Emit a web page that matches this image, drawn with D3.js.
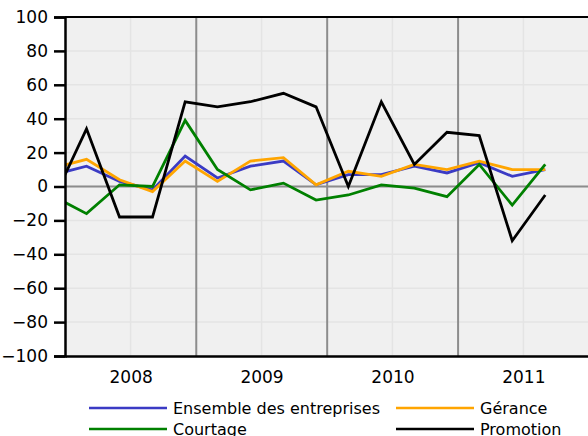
<!DOCTYPE html>
<html>
<head>
<meta charset="utf-8">
<script src="https://cdn.jsdelivr.net/npm/d3@7"></script>
<style>
  html, body { margin: 0; padding: 0; background: #fff; }
  svg { display: block; }
</style>
</head>
<body>
<div id="chart"></div>
<script>
// quarterly dates (first day of the last month of each quarter)
const dates = ['2007-12-01', '2008-03-01', '2008-06-01', '2008-09-01', '2008-12-01',
  '2009-03-01', '2009-06-01', '2009-09-01', '2009-12-01',
  '2010-03-01', '2010-06-01', '2010-09-01', '2010-12-01',
  '2011-03-01', '2011-06-01', '2011-09-01'];

const ensemble = [7, 12, 3, -2, 18, 5, 12, 15, 1, 7, 7, 12, 8, 14, 6, 10];
const gerance = [11, 16, 4, -3, 15, 3, 15, 17, 1, 9, 6, 13, 10, 15, 10, 10];
const courtage = [-6, -16, 1, 0, 39, 10, -2, 2, -8, -5, 1, -1, -6, 13, -11, 13];
const promotion = [-7, 34, -18, -18, 50, 47, 50, 55, 47, 0, 50, 13, 32, 30, -32, -5];

const yearLabels = ['2008', '2009', '2010', '2011'];
const yTicks = d3.range(-100, 101, 20);

const series = [
  { name: 'Ensemble des entreprises', values: ensemble, color: '#3b3bc4' },
  { name: 'Gérance', values: gerance, color: '#ffa500' },
  { name: 'Courtage', values: courtage, color: '#008000' },
  { name: 'Promotion', values: promotion, color: '#000000' },
];

const width = 588, height = 436;
const margin = { left: 65, top: 17, right: -1, bottom: 80 };
const parse = d3.timeParse('%Y-%m-%d');
const dateVals = dates.map(parse);

const x = d3.scaleTime()
  .domain([new Date(2008, 0, 1), new Date(2012, 0, 1)])
  .range([margin.left, width - margin.right]);
const y = d3.scaleLinear()
  .domain([-100, 100])
  .range([height - margin.bottom, margin.top]);

const svg = d3.select('#chart').append('svg')
  .attr('width', width)
  .attr('height', height)
  .attr('font-family', 'DejaVu Sans, sans-serif');

svg.append('defs').append('clipPath').attr('id', 'plot-clip')
  .append('rect')
  .attr('x', x.range()[0])
  .attr('y', y.range()[1])
  .attr('width', x.range()[1] - x.range()[0])
  .attr('height', y.range()[0] - y.range()[1]);

// plot background
svg.append('rect')
  .attr('x', x.range()[0])
  .attr('y', y.range()[1])
  .attr('width', x.range()[1] - x.range()[0])
  .attr('height', y.range()[0] - y.range()[1])
  .attr('fill', '#f0f0f0');

// faint grid
const years = yearLabels.map((d) => +d);
const midYears = years.map((yr) => new Date(yr, 6, 2));
svg.append('g').selectAll('line')
  .data(yTicks)
  .join('line')
  .attr('x1', x.range()[0]).attr('x2', x.range()[1])
  .attr('y1', (d) => y(d)).attr('y2', (d) => y(d))
  .attr('stroke', '#e4e4e4').attr('stroke-width', 1.5);
svg.append('g').selectAll('line')
  .data(midYears)
  .join('line')
  .attr('x1', (d) => x(d)).attr('x2', (d) => x(d))
  .attr('y1', y.range()[0]).attr('y2', y.range()[1])
  .attr('stroke', '#e4e4e4').attr('stroke-width', 1.5);

// year separators and zero line
svg.append('g').selectAll('line')
  .data(years.slice(1).map((yr) => new Date(yr, 0, 1)))
  .join('line')
  .attr('x1', (d) => x(d)).attr('x2', (d) => x(d))
  .attr('y1', y.range()[0]).attr('y2', y.range()[1])
  .attr('stroke', '#8c8c8c').attr('stroke-width', 2);
svg.append('line')
  .attr('x1', x.range()[0]).attr('x2', x.range()[1])
  .attr('y1', y(0)).attr('y2', y(0))
  .attr('stroke', '#8c8c8c').attr('stroke-width', 2);

// series, drawn in legend order (black ends up on top)
const line = d3.line()
  .x((d, i) => x(dateVals[i]))
  .y((d) => y(d));
const lines = svg.append('g').attr('clip-path', 'url(#plot-clip)');
series.forEach((s) => {
  lines.append('path')
    .datum(s.values)
    .attr('d', line)
    .attr('fill', 'none')
    .attr('stroke', s.color)
    .attr('stroke-width', 2.8)
    .attr('stroke-linejoin', 'miter');
});

// frame: top border, left and bottom axes
svg.append('line')
  .attr('x1', x.range()[0]).attr('x2', width)
  .attr('y1', y.range()[1]).attr('y2', y.range()[1])
  .attr('stroke', '#000').attr('stroke-width', 2);

const yAxis = svg.append('g')
  .attr('transform', `translate(${x.range()[0]},0)`)
  .call(d3.axisLeft(y).tickValues(yTicks).tickSize(11).tickPadding(6));
yAxis.select('.domain').attr('stroke-width', 2.5);
yAxis.selectAll('.tick line').attr('stroke-width', 2.5);
yAxis.selectAll('.tick text')
  .attr('font-size', 17)
  .attr('font-family', 'DejaVu Sans, sans-serif')
  .attr('fill', '#000');

const xAxis = svg.append('g')
  .attr('transform', `translate(0,${y.range()[0]})`)
  .call(d3.axisBottom(x).tickValues(midYears).tickSize(0).tickPadding(15)
    .tickFormat((d, i) => yearLabels[i]));
xAxis.select('.domain').attr('stroke-width', 2.5);
xAxis.selectAll('.tick text')
  .attr('font-size', 17)
  .attr('font-family', 'DejaVu Sans, sans-serif')
  .attr('fill', '#000');

// legend (second row is cut by the bottom edge, as in the original)
const legendPos = [
  { sx: 89, ty: 408 },
  { sx: 396, ty: 408 },
  { sx: 89, ty: 429 },
  { sx: 396, ty: 429 },
];
const legend = svg.append('g');
series.forEach((s, i) => {
  const p = legendPos[i];
  legend.append('line')
    .attr('x1', p.sx).attr('x2', p.sx + 78)
    .attr('y1', p.ty).attr('y2', p.ty)
    .attr('stroke', s.color).attr('stroke-width', 2.5);
  legend.append('text')
    .attr('x', p.sx + 84)
    .attr('y', p.ty + 6)
    .attr('font-size', 16)
    .attr('fill', '#000')
    .text(s.name);
});
</script>
</body>
</html>
